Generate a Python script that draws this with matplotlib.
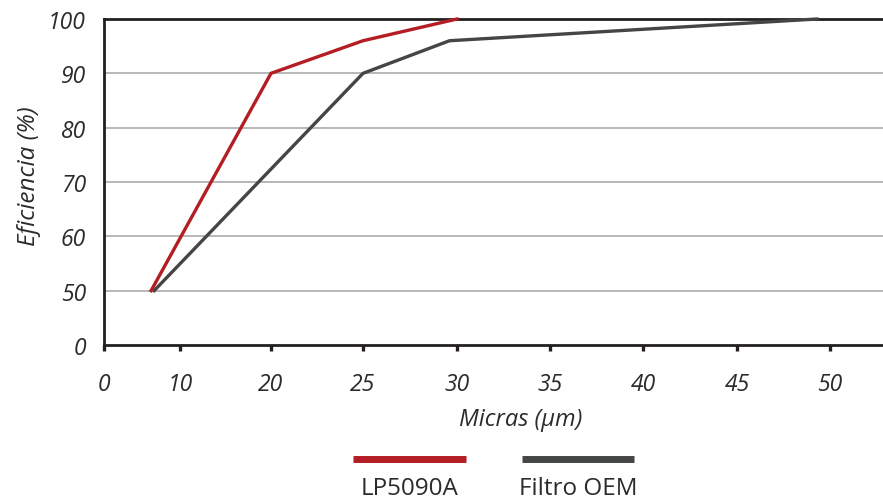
import numpy as np
import matplotlib.pyplot as plt
from matplotlib.lines import Line2D

# tick values on both axes (spaced evenly, not linearly)
x_ticks = [0, 10, 20, 25, 30, 35, 40, 45, 50]
y_ticks = [0, 50, 60, 70, 80, 90, 100]

# series
lp_x = [6.2, 20, 25, 30]
lp_y = [50, 90, 96, 100]
oem_x = [6.6, 25, 29.6, 49.3]
oem_y = [50, 90, 96, 100]

red = "#b31d23"
grey = "#434645"
ink = "#231f20"
txt = "#2b2b2b"

# piecewise scales so the uneven tick values sit where the chart puts them
x_vals = [0, 10, 20, 25, 30, 35, 40, 45, 50, 55]
x_pos = [104, 180, 271, 363, 457, 550, 643, 737, 830, 923]
y_vals = [0, 50, 60, 70, 80, 90, 100]
y_pos = [0, 1, 2, 3, 4, 5, 6]


def fx(v):
    return np.interp(v, x_vals, x_pos)


def ix(p):
    return np.interp(p, x_pos, x_vals)


def fy(v):
    return np.interp(v, y_vals, y_pos)


def iy(p):
    return np.interp(p, y_pos, y_vals)


plt.rcParams["font.family"] = ["Open Sans", "DejaVu Sans"]

fig = plt.figure(figsize=(8.83, 5.02), dpi=100)
ax = fig.add_axes([104 / 883, 1 - 346 / 502, 1 - 104 / 883, (346 - 20) / 502])
ax.set_xscale("function", functions=(fx, ix))
ax.set_yscale("function", functions=(fy, iy))
ax.set_xlim(0, 52.85)
ax.set_ylim(0, 100)

for v in y_ticks[1:-1]:
    ax.axhline(v, color="#b2b2b2", lw=1.3, zorder=1)

ax.plot(oem_x, oem_y, color=grey, lw=2.4, zorder=3, clip_on=False,
        solid_joinstyle="miter")
ax.plot(lp_x, lp_y, color=red, lw=2.4, zorder=4, clip_on=False,
        solid_joinstyle="miter")

ax.set_xticks(x_ticks)
ax.set_xticklabels([str(t) for t in x_ticks])
ax.set_yticks(y_ticks)
ax.set_yticklabels([str(t) for t in y_ticks])
ax.xaxis.set_minor_locator(plt.NullLocator())
ax.yaxis.set_minor_locator(plt.NullLocator())

ax.tick_params(axis="x", direction="out", length=4.5, width=2.4, color=ink,
               pad=15, labelsize=16.5, labelcolor=txt)
ax.tick_params(axis="y", length=0, pad=13, labelsize=16.5, labelcolor=txt)
for lab in ax.get_xticklabels() + ax.get_yticklabels():
    lab.set_fontstyle("italic")

for s in ["left", "bottom", "top"]:
    ax.spines[s].set_color(ink)
    ax.spines[s].set_linewidth(2)
ax.spines["right"].set_visible(False)

ax.set_ylabel("Eficiencia (%)", fontsize=17.5, fontstyle="italic", color=txt)
ax.yaxis.set_label_coords(-0.081, 0.52)
ax.set_xlabel("Micras (μm)", fontsize=17, fontstyle="italic", color=txt)
ax.xaxis.set_label_coords((521 - 104) / 779, -0.19)

# legend: swatch above its label
legend = [("LP5090A", red, 353, 466), ("Filtro OEM", grey, 522, 634)]
for name, col, x0, x1 in legend:
    fig.add_artist(Line2D([x0 / 883, x1 / 883], [1 - 460 / 502] * 2,
                          color=col, lw=5, solid_capstyle="butt"))
    fig.text((x0 + x1) / 2 / 883, 1 - 489 / 502, name, ha="center",
             va="center", fontsize=17.5, color=txt)

fig.savefig("out.png", dpi=100)
